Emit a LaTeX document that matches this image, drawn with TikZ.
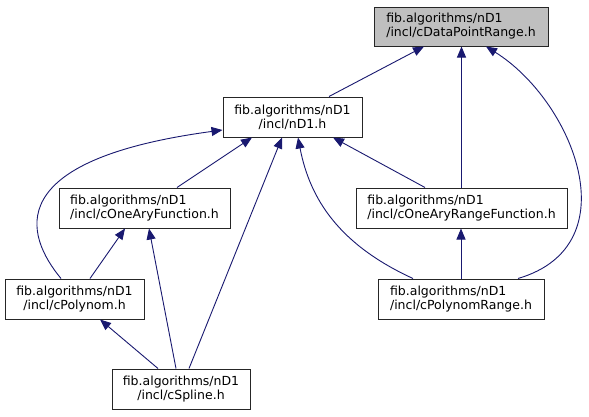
\documentclass[tikz,border=0pt]{standalone}
\usepackage{fontspec}
\setmainfont{DejaVu Sans}
\usetikzlibrary{arrows.meta}
\definecolor{edgeblue}{HTML}{191970}
\definecolor{boxgray}{HTML}{BFBFBF}
\begin{document}
\begin{tikzpicture}[x=1pt,y=-1pt,
  box/.style={draw=black!85, line width=1pt, minimum height=40pt, inner sep=0pt,
    font=\fontsize{12.5}{14}\selectfont},
  edge/.style={draw=edgeblue, line width=0.9pt, -{Triangle[length=11pt,width=9pt]}}]
\useasboundingbox (0,0) rectangle (589,416);
\fill[white] (0,0) rectangle (589,416);

\node[box, fill=boxgray, minimum width=174pt, minimum height=39pt, align=left] (dpr) at (461,26.5) {fib.algorithms/nD1\\/incl/cDataPointRange.h};
\node[box, minimum width=139pt, align=center] (nd1) at (292.5,117) {fib.algorithms/nD1\\/incl/nD1.h};
\node[box, minimum width=171pt, align=left] (oaf) at (144.5,208) {fib.algorithms/nD1\\/incl/cOneAryFunction.h};
\node[box, minimum width=211pt, align=left] (oarf) at (461.5,208) {fib.algorithms/nD1\\/incl/cOneAryRangeFunction.h};
\node[box, minimum width=139pt, align=center] (pol) at (74.5,299) {fib.algorithms/nD1\\/incl/cPolynom.h};
\node[box, minimum width=166pt, align=left] (polr) at (461,299) {fib.algorithms/nD1\\/incl/cPolynomRange.h};
\node[box, minimum width=138pt, align=center] (spl) at (181,389) {fib.algorithms/nD1\\/incl/cSpline.h};

% edges: child -> included file
\draw[edge] ([xshift=36.5pt]nd1.north) -- ([xshift=-37pt]dpr.south);
\draw[edge] (oarf.north) -- (oarf.north |- dpr.south);
\draw[edge] ([xshift=57pt]polr.north) .. controls (632,245) and (572,100) .. ([xshift=25pt]dpr.south);

\draw[edge] ([xshift=32.5pt]oaf.north) -- ([xshift=-40.5pt]nd1.south);
\draw[edge] ([xshift=-13.5pt]pol.north) .. controls (25,235) and (0,160) .. ([yshift=-13pt]nd1.west);
\draw[edge] ([xshift=8pt]spl.north) -- ([xshift=-10.5pt]nd1.south);
\draw[edge] ([xshift=-48pt]polr.north) .. controls (340,245) and (310,200) .. ([xshift=5.5pt]nd1.south);
\draw[edge] ([xshift=-36.5pt]oarf.north) -- ([xshift=40.5pt]nd1.south);

\draw[edge] ([xshift=15.5pt]pol.north) -- ([xshift=-19.5pt]oaf.south);
\draw[edge] ([xshift=-5pt]spl.north) -- ([xshift=4.5pt]oaf.south);
\draw[edge] (polr.north) -- (polr.north |- oarf.south);
\draw[edge] ([xshift=-23pt]spl.north) -- ([xshift=25.5pt]pol.south);
\end{tikzpicture}
\end{document}
